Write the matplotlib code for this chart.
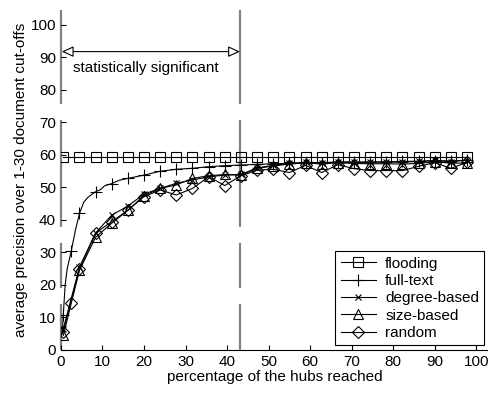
import matplotlib
matplotlib.use("Agg")
import matplotlib.pyplot as plt

plt.rcParams['font.family'] = ['Liberation Sans', 'DejaVu Sans']
plt.rcParams['font.size'] = 11

# percentage of hubs reached (marker positions)
x = [0.56, 4.45, 8.34, 12.23, 16.12, 20.01, 23.9, 27.79, 31.68, 35.57, 39.46,
     43.35, 47.24, 51.13, 55.02, 58.91, 62.8, 66.69, 70.58, 74.47, 78.36,
     82.25, 86.14, 90.03, 93.92, 97.81]

flooding = [59.5] * len(x)
degree = [6.5, 25.5, 36, 41.5, 44.3, 48, 49.7, 51.3, 52.3, 53.3, 53.8, 54,
          56, 56.8, 57.4, 57.8, 57.6, 57.9, 57.8, 57.8, 57.8, 57.8, 58, 58.3,
          57.9, 58.5]
size = [4.5, 24.5, 34.7, 39, 43, 47.5, 49.7, 50.8, 52.8, 53.6, 54, 53.8,
        55.9, 56.6, 57.2, 57.6, 57.2, 57.6, 57.4, 57.3, 57.3, 57.2, 57.4,
        57.9, 57.5, 57.5]

x_rand = [0.56, 2.3] + x[1:]
rand = [5.5, 14.5, 24.8, 36, 39.5, 43, 47.2, 49.2, 47.7, 49.7, 53.3, 50.6,
        53.6, 55.3, 55.6, 54.6, 56.8, 54.6, 57, 55.8, 55.2, 55.2, 55.2, 56.5,
        57.6, 55.9, 57.7]

# full-text curve is sampled more densely than its markers
x_ft = [0.3, 0.56, 1.0, 1.5, 2.5, 3.5, 4.45, 5.5, 6.5, 8.34, 9.5, 10.5,
        12.23, 14.0, 16.12] + x[5:]
full = [5, 10.8, 20, 25, 30.6, 37, 42, 45.5, 47, 48.7, 49.3, 50.5, 51.2,
        52.2, 52.8, 53.8, 55, 55.6, 55.9, 56.4, 56.7, 56.9, 57.1, 57.3, 57.4,
        57.5, 57.6, 57.7, 57.8, 57.8, 57.9, 58, 58.1, 58.2, 58.2, 58.3]
ft_marks = [1, 4, 6, 9, 12, 14] + list(range(15, len(x_ft)))

fig = plt.figure(figsize=(4.89, 3.97), dpi=100)
ax = fig.add_axes([0.1247, 0.1184, 0.8753, 0.8564])

style = dict(color='black', lw=0.8, mfc='none', mec='black', mew=0.8)
ax.plot(x, flooding, marker='s', ms=7, label='flooding', **style)
ax.plot(x_ft, full, marker='+', ms=9, markevery=ft_marks, label='full-text', **style)
ax.plot(x, degree, marker='x', ms=4, label='degree-based', **style)
ax.plot(x, size, marker='^', ms=7.5, label='size-based', **style)
ax.plot(x_rand, rand, marker='D', ms=6.5, label='random', **style)

# significance region boundaries, dashed from the top down
for xv in (0, 43.1):
    ax.axvline(xv, ymin=1, ymax=0, color='#808080', lw=1.6,
               dashes=(42.3, 7.2, 48.1, 7.2, 20.3, 7.2, 20.6, 7.2),
               zorder=0, clip_on=False)

ax.annotate('', xy=(0.2, 91.8), xytext=(43.1, 91.8),
            arrowprops=dict(arrowstyle='<|-|>,head_length=0.65,head_width=0.3',
                            fc='white', ec='black', lw=0.8,
                            shrinkA=0, shrinkB=0))
ax.text(20.5, 86.8, 'statistically significant', ha='center', va='center')

ax.set_xlim(0, 103.1)
ax.set_ylim(0, 104.6)
ax.set_xticks(range(0, 101, 10))
ax.set_yticks(range(0, 101, 10))
ax.tick_params(direction='in', length=3.5, width=0.8)
for s in ('top', 'right', 'left'):
    ax.spines[s].set_visible(False)
ax.spines['bottom'].set_linewidth(0.8)

ax.set_xlabel('percentage of the hubs reached', labelpad=1)
ax.set_ylabel('average precision over 1-30 document cut-offs', labelpad=2)

leg = ax.legend(loc='lower right', fancybox=False, framealpha=1,
                edgecolor='black', handlelength=2.3, labelspacing=0.22,
                borderaxespad=0.3, handletextpad=0.6, borderpad=0.35)
leg.get_frame().set_linewidth(0.8)

fig.savefig('out.png', dpi=100)
